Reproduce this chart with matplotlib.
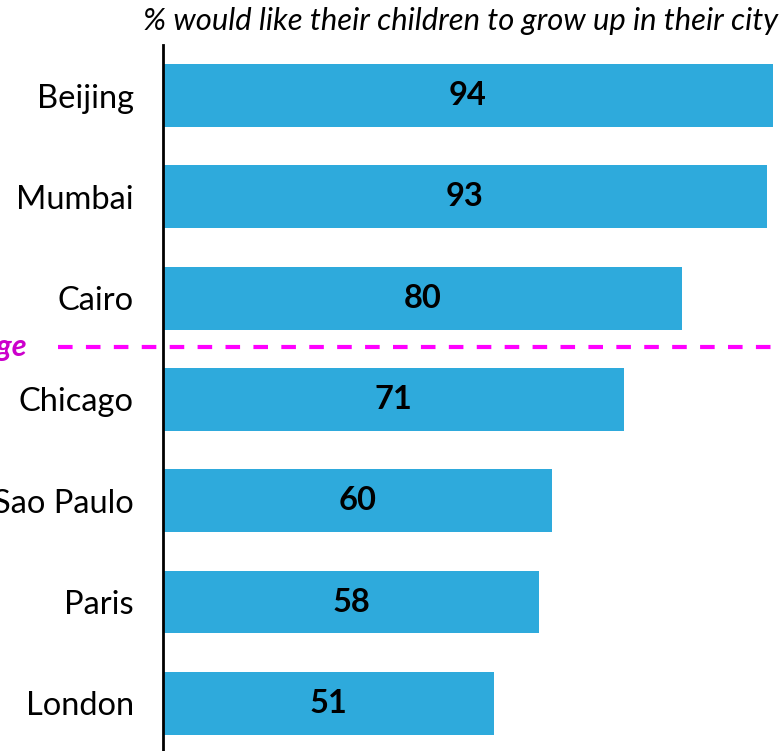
import matplotlib
matplotlib.use("Agg")
import matplotlib.pyplot as plt

cities = ["Beijing", "Mumbai", "Cairo", "Chicago", "Sao Paulo", "Paris", "London"]
values = [94, 93, 80, 71, 60, 58, 51]
title = "% would like their children to grow up in their city"
avg_label = "Average"
avg_pos = 2.48

W, H = 782, 751
fig = plt.figure(figsize=(W / 100, H / 100), dpi=100)
ax = fig.add_axes([163 / W, 0, (W - 163) / W, (751 - 45) / H])

bar_color = "#2EAADC"
font = "Lato"
ypos = list(range(len(cities)))
ax.barh(ypos, values, height=0.62, color=bar_color, zorder=2)
ax.set_xlim(0, (W - 163) / 6.49)
ax.set_ylim(6.47, -0.4985)

for y, v in zip(ypos, values):
    ax.text(v / 2, y, str(v), ha="center", va="center", fontsize=23.5,
            fontweight="bold", family=font, color="black", zorder=3)

ax.set_yticks(ypos)
ax.set_yticklabels(cities, fontsize=23.5, family=font)
ax.tick_params(axis="y", length=0, pad=21)
ax.set_xticks([])
for s in ["top", "right", "bottom"]:
    ax.spines[s].set_visible(False)
ax.spines["left"].set_linewidth(2)
ax.spines["left"].set_color("black")

# average dashed line
x0 = (58 - 163) / 6.49
ax.plot([x0, (W - 163) / 6.49], [avg_pos, avg_pos], color="#FF00FF",
        lw=3, ls=(0, (3.5, 3.2)), clip_on=False, zorder=1)
fig.text(27 / W, 1 - 347 / H, avg_label, ha="right", va="center",
         fontsize=22, fontweight="bold", style="italic", color="#CC00CC",
         family=font)

fig.text(778 / W, 1 - 21 / H, title, ha="right", va="center", fontsize=22.3,
         style="italic", family=font)

fig.savefig("out.png", dpi=100)
